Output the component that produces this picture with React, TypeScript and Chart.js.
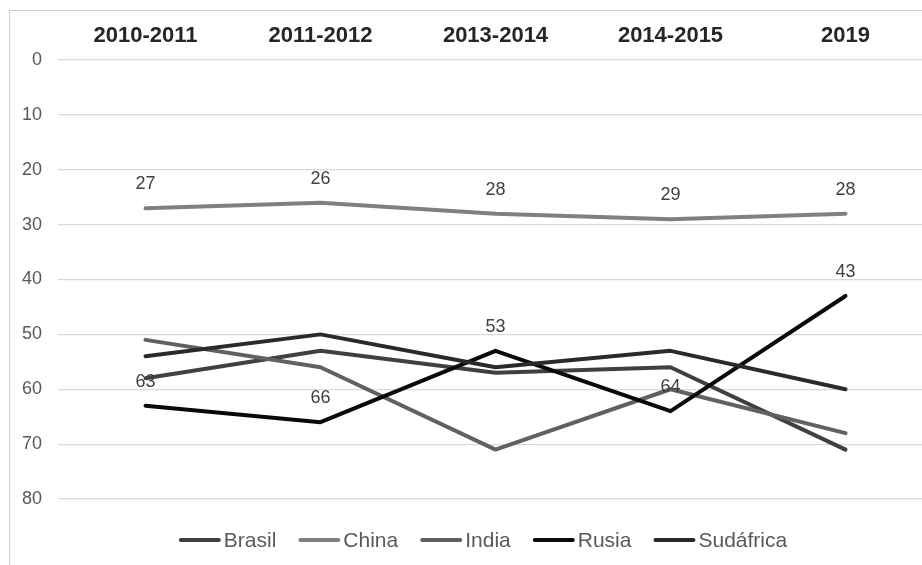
import React, { useEffect, useRef } from "react";
import { Chart, registerables } from "chart.js";

Chart.register(...registerables);

// ---- data ----
const periods = ["2010-2011", "2011-2012", "2013-2014", "2014-2015", "2019"];
const brasil = [58, 53, 57, 56, 71];
const china = [27, 26, 28, 29, 28];
const india = [51, 56, 71, 60, 68];
const rusia = [63, 66, 53, 64, 43];
const sudafrica = [54, 50, 56, 53, 60];
const seriesNames = ["Brasil", "China", "India", "Rusia", "Sudáfrica"];
const labelledSeries = ["China", "Rusia"];
const yMin = 0;
const yMax = 80;
const yStep = 10;

// ---- styles ----
const FONT = "'Liberation Sans', Arial, sans-serif";
const seriesColors = ["#404040", "#808080", "#616161", "#0a0a0a", "#2a2a2a"];
const CANVAS_W = 940;
const CANVAS_H = 565;

const valueLabels = {
  id: "valueLabels",
  afterDatasetsDraw(chart: any) {
    const ctx = chart.ctx;
    ctx.save();
    ctx.font = `18px ${FONT}`;
    ctx.fillStyle = "#404040";
    ctx.textAlign = "center";
    ctx.textBaseline = "middle";
    chart.data.datasets.forEach((ds: any, i: number) => {
      if (!labelledSeries.includes(ds.label)) return;
      const meta = chart.getDatasetMeta(i);
      meta.data.forEach((pt: any, j: number) => {
        ctx.fillText(String(ds.data[j]), pt.x, pt.y - 24);
      });
    });
    ctx.restore();
  },
};

const LEG_LINE = 42;
const LEG_GAP = 3;
const LEG_SPACING = 22;
const LEG_CENTER_X = 483;
const LEG_Y = 540;

const bottomLegend = {
  id: "bottomLegend",
  afterDraw(chart: any) {
    const ctx = chart.ctx;
    ctx.save();
    ctx.font = `21px ${FONT}`;
    ctx.textBaseline = "middle";
    ctx.textAlign = "left";
    const items = chart.data.datasets.map((ds: any) => ({
      text: ds.label,
      color: ds.borderColor,
      w: ctx.measureText(ds.label).width,
    }));
    const total =
      items.reduce((s: number, it: any) => s + LEG_LINE + LEG_GAP + it.w, 0) +
      LEG_SPACING * (items.length - 1);
    let x = LEG_CENTER_X - total / 2;
    items.forEach((it: any) => {
      ctx.strokeStyle = it.color;
      ctx.lineWidth = 4;
      ctx.lineCap = "round";
      ctx.beginPath();
      ctx.moveTo(x + 2, LEG_Y);
      ctx.lineTo(x + LEG_LINE - 2, LEG_Y);
      ctx.stroke();
      ctx.fillStyle = "#595959";
      ctx.fillText(it.text, x + LEG_LINE + LEG_GAP, LEG_Y + 1);
      x += LEG_LINE + LEG_GAP + it.w + LEG_SPACING;
    });
    ctx.restore();
  },
};

export default function App() {
  const canvasRef = useRef<HTMLCanvasElement | null>(null);

  useEffect(() => {
    if (!canvasRef.current) return;
    const allSeries = [brasil, china, india, rusia, sudafrica];
    const chart = new Chart(canvasRef.current, {
      type: "line",
      data: {
        labels: periods,
        datasets: allSeries.map((d, i) => ({
          label: seriesNames[i],
          data: d,
          borderColor: seriesColors[i],
          backgroundColor: seriesColors[i],
          borderWidth: 4,
          pointRadius: 0,
          tension: 0,
          fill: false,
          borderCapStyle: "round",
          borderJoinStyle: "round",
          order: allSeries.length - 1 - i,
        })),
      },
      options: {
        responsive: false,
        animation: false,
        layout: { padding: { left: 0, right: 7, top: 0, bottom: 66 } },
        plugins: {
          legend: { display: false },
          tooltip: { enabled: false },
        },
        scales: {
          x: {
            position: "top",
            offset: true,
            grid: { display: false, drawTicks: false },
            border: { display: false },
            ticks: {
              color: "#262626",
              font: { family: FONT, size: 22, weight: "bold" },
              padding: 11,
              maxRotation: 0,
            },
            afterFit(scale: any) {
              scale.height = 60;
            },
          },
          y: {
            reverse: true,
            min: yMin,
            max: yMax,
            grid: { color: "#d9d9d9", lineWidth: 1.2, drawTicks: false },
            border: { display: false },
            ticks: {
              stepSize: yStep,
              color: "#595959",
              font: { family: FONT, size: 18 },
              padding: 16,
            },
            afterFit(scale: any) {
              scale.width = 58;
            },
          },
        },
      },
      plugins: [valueLabels, bottomLegend],
    } as any);
    return () => chart.destroy();
  }, []);

  return (
    <div
      style={{
        position: "fixed",
        left: 0,
        top: 0,
        width: 922,
        height: 565,
        overflow: "hidden",
        background: "#ffffff",
      }}
    >
      <div
        style={{
          position: "absolute",
          left: 9,
          top: 10,
          width: 1000,
          height: 700,
          border: "1px solid #d0d0d0",
        }}
      />
      <canvas
        ref={canvasRef}
        width={CANVAS_W}
        height={CANVAS_H}
        style={{ position: "absolute", left: 0, top: 0, width: CANVAS_W, height: CANVAS_H }}
      />
    </div>
  );
}
